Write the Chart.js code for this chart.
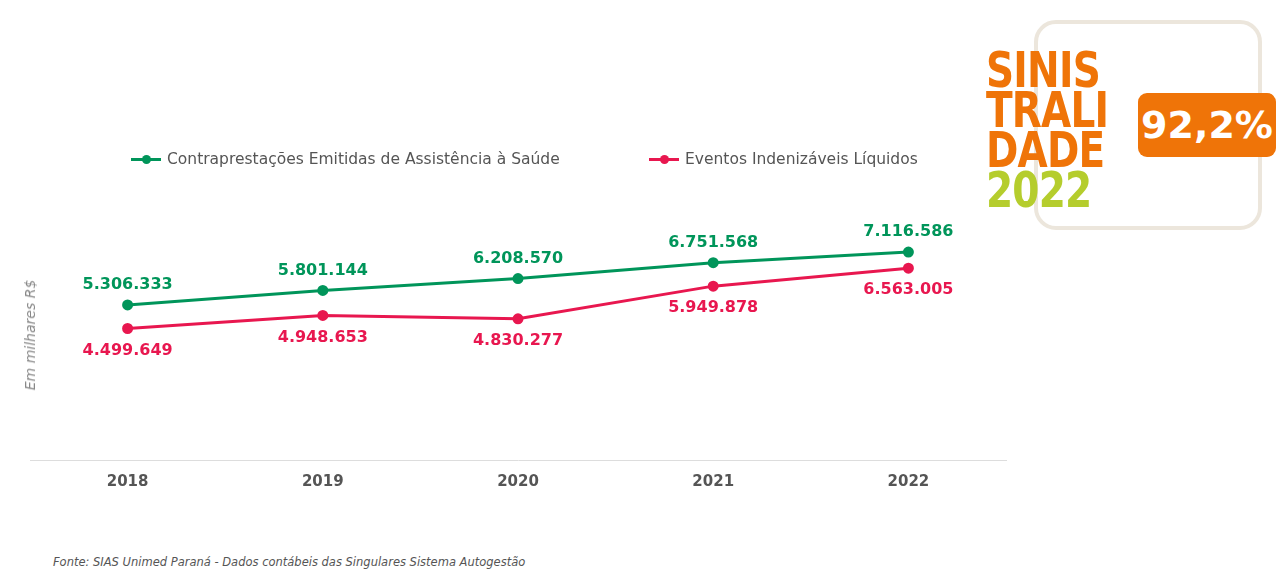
<!DOCTYPE html>
<html><head><meta charset="utf-8">
<script src="https://cdn.jsdelivr.net/npm/chart.js@4"></script>
<style>
body{margin:0;width:1281px;height:581px;background:#fff;position:relative;overflow:hidden;font-family:"DejaVu Sans",sans-serif}
#wrap{position:absolute;left:0;top:0;width:1013px;height:500px}
.leg{position:absolute;top:150px;font-size:15.5px;color:#555;display:flex;align-items:center}
.leg i{display:inline-block;width:30px;height:3px;position:relative;margin-right:6px}
.leg i:after{content:"";position:absolute;left:11px;top:-3px;width:9px;height:9px;border-radius:50%;background:inherit}
#ytitle{position:absolute;left:30px;top:335px;transform:translate(-50%,-50%) rotate(-90deg);font-style:italic;font-size:14px;color:#888;white-space:nowrap}
#src{position:absolute;left:53px;top:555px;font-style:italic;font-size:11.5px;color:#555}
#box{position:absolute;left:1034px;top:20px;width:220px;height:202px;border:4px solid #ece6dc;border-radius:22px}
#sin{position:absolute;left:986px;top:50px;font-weight:bold;font-size:50px;line-height:40px;color:#ef7408;letter-spacing:-1px;transform:scaleX(0.78);transform-origin:0 0}
#sin span{color:#b5cd2d}
#pct{position:absolute;left:1138px;top:93px;width:138px;height:64px;background:#ef7408;border-radius:9px;color:#fff;font-weight:bold;font-size:38px;line-height:64px;text-align:center}
</style></head><body>
<div id="wrap"><canvas id="c"></canvas></div>
<div class="leg" style="left:131px"><i style="background:#00955a"></i>Contraprestações Emitidas de Assistência à Saúde</div>
<div class="leg" style="left:649px"><i style="background:#e8174f"></i>Eventos Indenizáveis Líquidos</div>
<div id="ytitle">Em milhares R$</div>
<div id="src">Fonte: SIAS Unimed Paraná - Dados contábeis das Singulares Sistema Autogestão</div>
<div id="box"></div>
<div id="sin">SINIS<br>TRALI<br>DADE<br><span>2022</span></div>
<div id="pct">92,2%</div>
<script>
// dados do gráfico
const years = ["2018", "2019", "2020", "2021", "2022"];
const contraprestacoes = [5306333, 5801144, 6208570, 6751568, 7116586];
const eventos = [4499649, 4948653, 4830277, 5949878, 6563005];
const green = "#00955a", red = "#e8174f";

function fmt(v) {
    return String(v).replace(/\B(?=(\d{3})+(?!\d))/g, ".");
}

// rótulos dos valores
const valueLabels = {
    id: "valueLabels",
    afterDatasetsDraw(chart) {
        const ctx = chart.ctx;
        ctx.save();
        ctx.font = "bold 16px 'DejaVu Sans'";
        ctx.textAlign = "center";
        chart.data.datasets.forEach(function(ds, i) {
            chart.getDatasetMeta(i).data.forEach(function(pt, j) {
                ctx.fillStyle = ds.borderColor;
                if (i === 0) { ctx.textBaseline = "bottom"; ctx.fillText(fmt(ds.data[j]), pt.x, pt.y - 12); }
                else { ctx.textBaseline = "top"; ctx.fillText(fmt(ds.data[j]), pt.x, pt.y + 14); }
            });
        });
        ctx.restore();
    }
};

new Chart(document.getElementById("c"), {
    type: "line",
    data: {
        labels: years,
        datasets: [
            { data: contraprestacoes, borderColor: green, backgroundColor: green, borderWidth: 3, pointRadius: 4, pointHoverRadius: 4 },
            { data: eventos, borderColor: red, backgroundColor: red, borderWidth: 3, pointRadius: 4, pointHoverRadius: 4 }
        ]
    },
    options: {
        responsive: true,
        maintainAspectRatio: false,
        animation: false,
        layout: { padding: { left: 30, right: 3, top: 197, bottom: 0 } },
        plugins: { legend: { display: false }, tooltip: { enabled: false } },
        scales: {
            x: {
                offset: true,
                grid: { display: false },
                border: { color: "#dddddd" },
                ticks: { color: "#555", font: { family: "DejaVu Sans", size: 15, weight: "bold" }, padding: 5 },
                afterFit: function(s) { s.height = 40; }
            },
            y: { display: false, min: 0, max: 9000000 }
        }
    },
    plugins: [valueLabels]
});
</script>
</body></html>
